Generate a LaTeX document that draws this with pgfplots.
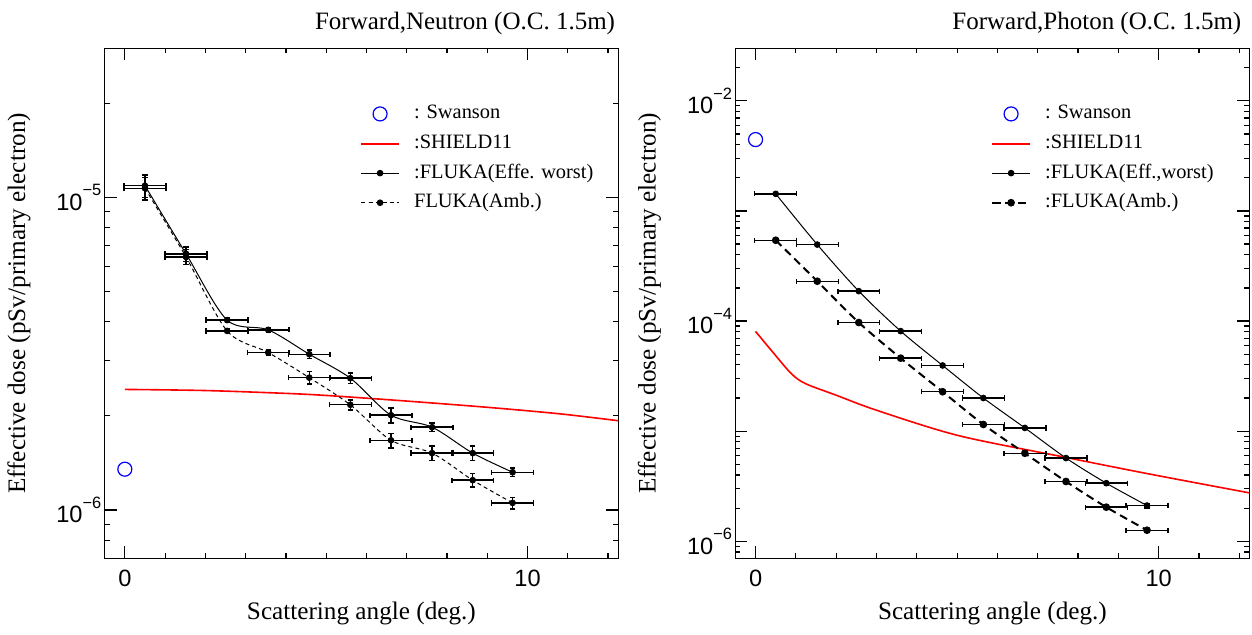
\documentclass[border=0pt]{standalone}
\usepackage{fontspec}
\setmainfont{Liberation Serif}
\setsansfont{Liberation Sans}
\usepackage{pgfplots}
\pgfplotsset{compat=1.18}

% tick label as text, so that it keeps the sans font
\newcommand{\tl}[1]{10\raisebox{7.3pt}{\fontsize{8.2}{9}\selectfont −#1}}

\pgfplotsset{
  every axis/.append style={
    scale only axis, height=255pt,
    xmin=-0.5, xmax=12.25,
    xtick={0,10}, xticklabels={0,10}, minor xtick={1,...,12},
    tick align=inside, major tick length=6pt, minor tick length=2.5pt,
    axis line style={line width=0.6pt},
    tick style={black, line width=0.6pt},
    tick label style={font=\sffamily\fontsize{11.8}{12}\selectfont},
    yticklabel style={inner sep=1.5pt},
    xticklabel style={yshift=-2.5pt},
    label style={font=\fontsize{12.6}{14}\selectfont},
    xlabel style={at={(rel axis cs:0.5,0)}, anchor=base, yshift=-30.8pt},
    ylabel style={at={(rel axis cs:-0.167,0.5)}, anchor=center},
    title style={at={(rel axis cs:1,1)}, anchor=base east, yshift=3.4pt,
                 font=\fontsize{12.5}{14}\selectfont},
  },
  every axis legend/.append style={draw=none, fill=none, at={(rel axis cs:0.498,0.889)},
    anchor=north west, inner sep=0pt, outer sep=0pt,
    font=\fontsize{10.2}{12}\selectfont,
    nodes={inner sep=0pt, text height=7pt, text depth=2pt}, row sep=5.8pt},
  legend cell align=left,
  legend image code/.code={\draw[mark repeat=2, mark phase=2, #1]
      plot coordinates {(0pt,0pt) (9.35pt,0pt) (18.7pt,0pt)};
      \path (25.9pt,0pt);},
  error bars/error bar style={solid, line width=0.7pt, black},
  error bars/error mark options={rotate=90, solid, line width=0.7pt, mark size=1.3pt, black},
  % legend sample for the red SHIELD11 curve, set at pgf level
  redkey/.style={legend image code/.code={
      \pgfsetstrokecolor{red}\pgfsetlinewidth{1pt}%
      \pgfpathmoveto{\pgfpoint{0pt}{0pt}}\pgfpathlineto{\pgfpoint{18.7pt}{0pt}}%
      \pgfusepath{stroke}%
      \path (25.9pt,0pt);}},
}

\begin{document}
\begin{tikzpicture}
\path[use as bounding box] (0,0) rectangle (626pt,317pt);

% ---------------- neutron ----------------
\begin{axis}[at={(52.35pt,37.85pt)}, anchor=south west,
  width=256.7pt, ymode=log, ymin=7e-7, ymax=3e-5,
  ytick={1e-6,1e-5}, yticklabels={\tl{6},\tl{5}},
  minor ytick={7e-7,8e-7,9e-7,2e-6,3e-6,4e-6,5e-6,6e-6,7e-6,8e-6,9e-6,2e-5,3e-5},
  xlabel={Scattering angle (deg.)},
  ylabel={Effective dose (pSv/primary electron)},
  title={Forward,Neutron (O.C. 1.5m)}, title style={xshift=2pt}]

\addplot[only marks, mark=o, mark size=3.5pt, draw=blue, line width=0.6pt] coordinates {(0,1.35e-6)};
\addlegendentry{: Swanson}

\addplot[draw=red, line width=0.8pt, smooth, redkey] coordinates {
  (0,2.43e-6) (2,2.41e-6) (4,2.36e-6) (5.1,2.32e-6) (7,2.23e-6)
  (9,2.13e-6) (10.8,2.03e-6) (12.25,1.93e-6)};
\addlegendentry{:SHIELD11}

\addplot[black, line width=0.5pt, smooth, mark=*, mark size=1.4pt,
  error bars/.cd, x dir=both, x explicit, y dir=both, y explicit] coordinates {
  (0.50,1.09e-5)  +- (0.52,0.09e-5)
  (1.52,6.60e-6)  +- (0.52,0.35e-6)
  (2.54,4.05e-6)  +- (0.52,0.06e-6)
  (3.56,3.77e-6)  +- (0.52,0.06e-6)
  (4.58,3.15e-6)  +- (0.52,0.10e-6)
  (5.60,2.64e-6)  +- (0.52,0.10e-6)
  (6.61,2.01e-6)  +- (0.52,0.11e-6)
  (7.63,1.84e-6)  +- (0.52,0.06e-6)
  (8.64,1.52e-6)  +- (0.52,0.08e-6)
  (9.63,1.32e-6)  +- (0.52,0.04e-6)};
\addlegendentry{:FLUKA(Effe. worst)}

\addplot[black, line width=0.5pt, dash pattern=on 2pt off 1.6pt, smooth,
  mark=*, mark size=1.4pt, mark options={solid},
  error bars/.cd, x dir=both, x explicit, y dir=both, y explicit] coordinates {
  (0.50,1.07e-5)  +- (0.52,0.09e-5)
  (1.52,6.45e-6)  +- (0.52,0.35e-6)
  (2.54,3.74e-6)  +- (0.52,0.05e-6)
  (3.56,3.19e-6)  +- (0.52,0.06e-6)
  (4.58,2.65e-6)  +- (0.52,0.12e-6)
  (5.60,2.17e-6)  +- (0.52,0.08e-6)
  (6.61,1.67e-6)  +- (0.52,0.09e-6)
  (7.63,1.52e-6)  +- (0.52,0.08e-6)
  (8.64,1.245e-6) +- (0.52,0.06e-6)
  (9.63,1.053e-6) +- (0.52,0.045e-6)};
\addlegendentry{FLUKA(Amb.)}
\end{axis}

% ---------------- photon ----------------
\begin{axis}[at={(367.7pt,37.85pt)}, anchor=south west,
  width=257pt, ymode=log, ymin=7e-7, ymax=3e-2,
  ytick={1e-6,1e-5,1e-4,1e-3,1e-2}, yticklabels={\tl{6},,\tl{4},,\tl{2}},
  minor ytick={7e-7,8e-7,9e-7,
    2e-6,3e-6,4e-6,5e-6,6e-6,7e-6,8e-6,9e-6,
    2e-5,3e-5,4e-5,5e-5,6e-5,7e-5,8e-5,9e-5,
    2e-4,3e-4,4e-4,5e-4,6e-4,7e-4,8e-4,9e-4,
    2e-3,3e-3,4e-3,5e-3,6e-3,7e-3,8e-3,9e-3,
    2e-2,3e-2},
  xlabel={Scattering angle (deg.)},
  ylabel={Effective dose (pSv/primary electron)},
  title={Forward,Photon (O.C. 1.5m)}, title style={xshift=-0.5pt}]

\addplot[only marks, mark=o, mark size=3.5pt, draw=blue, line width=0.6pt] coordinates {(0,4.45e-3)};
\addlegendentry{: Swanson}

\addplot[draw=red, line width=0.8pt, smooth, redkey] coordinates {
  (0,8.05e-5) (0.45,5.1e-5) (0.89,3.32e-5) (1.24,2.7e-5) (2.0,2.12e-5)
  (3.02,1.54e-5) (5.04,9.1e-6) (7.67,5.8e-6) (9.74,4.1e-6) (12.25,2.75e-6)};
\addlegendentry{:SHIELD11}

\addplot[black, line width=0.5pt, smooth, mark=*, mark size=1.4pt,
  error bars/.cd, x dir=both, x explicit, y dir=both, y explicit] coordinates {
  (0.50,1.43e-3) +- (0.52,0.03e-3)
  (1.53,4.95e-4) +- (0.52,0.10e-4)
  (2.56,1.87e-4) +- (0.52,0.04e-4)
  (3.60,8.1e-5)  +- (0.52,0.2e-5)
  (4.64,3.95e-5) +- (0.52,0.08e-5)
  (5.65,2.0e-5)  +- (0.52,0.05e-5)
  (6.68,1.07e-5) +- (0.52,0.03e-5)
  (7.70,5.7e-6)  +- (0.52,0.2e-6)
  (8.70,3.37e-6) +- (0.52,0.14e-6)
  (9.71,2.11e-6) +- (0.52,0.10e-6)};
\addlegendentry{:FLUKA(Eff.,worst)}

\addplot[black, line width=1pt, dash pattern=on 4pt off 2.5pt, smooth,
  mark=*, mark size=1.4pt, mark options={solid},
  error bars/.cd, x dir=both, x explicit, y dir=both, y explicit] coordinates {
  (0.50,5.42e-4) +- (0.52,0.10e-4)
  (1.53,2.30e-4) +- (0.52,0.05e-4)
  (2.56,9.7e-5)  +- (0.52,0.2e-5)
  (3.60,4.6e-5)  +- (0.52,0.1e-5)
  (4.64,2.28e-5) +- (0.52,0.05e-5)
  (5.65,1.15e-5) +- (0.52,0.03e-5)
  (6.68,6.3e-6)  +- (0.52,0.15e-6)
  (7.70,3.49e-6) +- (0.52,0.10e-6)
  (8.70,2.04e-6) +- (0.52,0.08e-6)
  (9.71,1.26e-6) +- (0.52,0.04e-6)};
\addlegendentry{:FLUKA(Amb.)}
\end{axis}
\end{tikzpicture}
\end{document}
